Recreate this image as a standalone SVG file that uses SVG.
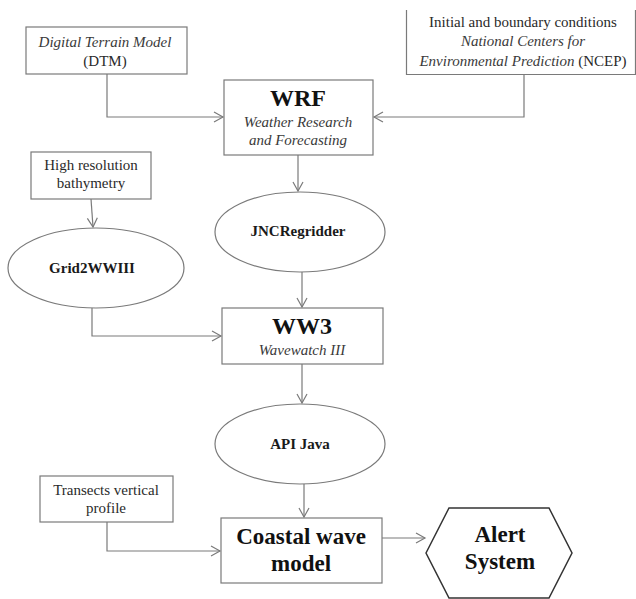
<svg xmlns="http://www.w3.org/2000/svg" width="636" height="599" viewBox="0 0 636 599">
<style>
.box{fill:#fff;stroke:#7a7a7a;stroke-width:1.2}
.ell{fill:#fff;stroke:#7a7a7a;stroke-width:1.2}
.hex{fill:#fff;stroke:#333;stroke-width:1.5}
.conn{fill:none;stroke:#7a7a7a;stroke-width:1.2;marker-end:url(#arr)}
text{font-family:"Liberation Serif","Times New Roman",serif;text-anchor:middle;fill:#222}
.t{font-size:15px;fill:#2a2a2a}
.i{font-size:15px;font-style:italic;fill:#3a3a3a}
.b{font-size:15px;font-weight:bold;fill:#1a1a1a}
.big{font-size:24px;font-weight:bold;fill:#111}
.cw{font-size:23px;font-weight:bold;fill:#111}
</style>
<defs>
<marker id="arr" markerWidth="12" markerHeight="12" refX="10" refY="6" orient="auto" markerUnits="userSpaceOnUse">
<path d="M1,1 L10,6 L1,11" fill="none" stroke="#7a7a7a" stroke-width="1.2"/>
</marker>
</defs>
<g id="connectors">
<path class="conn" d="M107,74 V117 H223"/>
<path class="conn" d="M524,74 V117 H374"/>
<path class="conn" d="M298,155 V191"/>
<path class="conn" d="M91,199 L93,227"/>
<path class="conn" d="M302,272 V307"/>
<path class="conn" d="M92,308 V336 H221"/>
<path class="conn" d="M302,364 V403"/>
<path class="conn" d="M304,484 V517"/>
<path class="conn" d="M107,522 V551 H220"/>
<path class="conn" d="M382,538 H425"/>
</g>
<g id="dtm">
<rect class="box" x="26" y="27" width="161" height="47"/>
<text class="i" x="105" y="47">Digital Terrain Model</text>
<text class="t" x="105" y="66">(DTM)</text>
</g>
<g id="ncep">
<path d="M406.5,10 V74.5 H635.5 V10" fill="#fff" stroke="#7a7a7a" stroke-width="1.2"/>
<text class="t" x="523" y="27">Initial and boundary conditions</text>
<text class="i" x="523" y="46">National Centers for</text>
<text class="t" x="523" y="66"><tspan font-style="italic" fill="#3a3a3a">Environmental Prediction</tspan> (NCEP)</text>
</g>
<g id="wrf">
<rect class="box" x="224" y="80" width="149" height="75"/>
<text class="big" x="298" y="106">WRF</text>
<text class="i" x="298" y="127">Weather Research</text>
<text class="i" x="298" y="145">and Forecasting</text>
</g>
<g id="bathymetry">
<rect class="box" x="31" y="152" width="120" height="47"/>
<text class="t" x="91" y="170">High resolution</text>
<text class="t" x="91" y="188">bathymetry</text>
</g>
<g id="grid2wwiii">
<ellipse class="ell" cx="96" cy="268" rx="88" ry="40"/>
<text class="b" x="92" y="273">Grid2WWIII</text>
</g>
<g id="jncregridder">
<ellipse class="ell" cx="300" cy="232" rx="85" ry="40"/>
<text class="b" x="298" y="236">JNCRegridder</text>
</g>
<g id="ww3">
<rect class="box" x="222" y="308" width="161" height="56"/>
<text class="big" x="302" y="334">WW3</text>
<text class="i" x="302" y="355">Wavewatch III</text>
</g>
<g id="apijava">
<ellipse class="ell" cx="300" cy="444" rx="85" ry="40"/>
<text class="b" x="300" y="449">API Java</text>
</g>
<g id="transects">
<rect class="box" x="40" y="476" width="133" height="46"/>
<text class="t" x="106" y="495">Transects vertical</text>
<text class="t" x="106" y="513">profile</text>
</g>
<g id="coastal">
<rect class="box" x="221" y="518" width="161" height="65"/>
<text class="cw" x="301" y="544">Coastal wave</text>
<text class="cw" x="301" y="571">model</text>
</g>
<g id="alert">
<polygon class="hex" points="426,553 449,508 549,508 572,553 549,598 449,598"/>
<text class="cw" x="500" y="542">Alert</text>
<text class="cw" x="500" y="569">System</text>
</g>
</svg>
